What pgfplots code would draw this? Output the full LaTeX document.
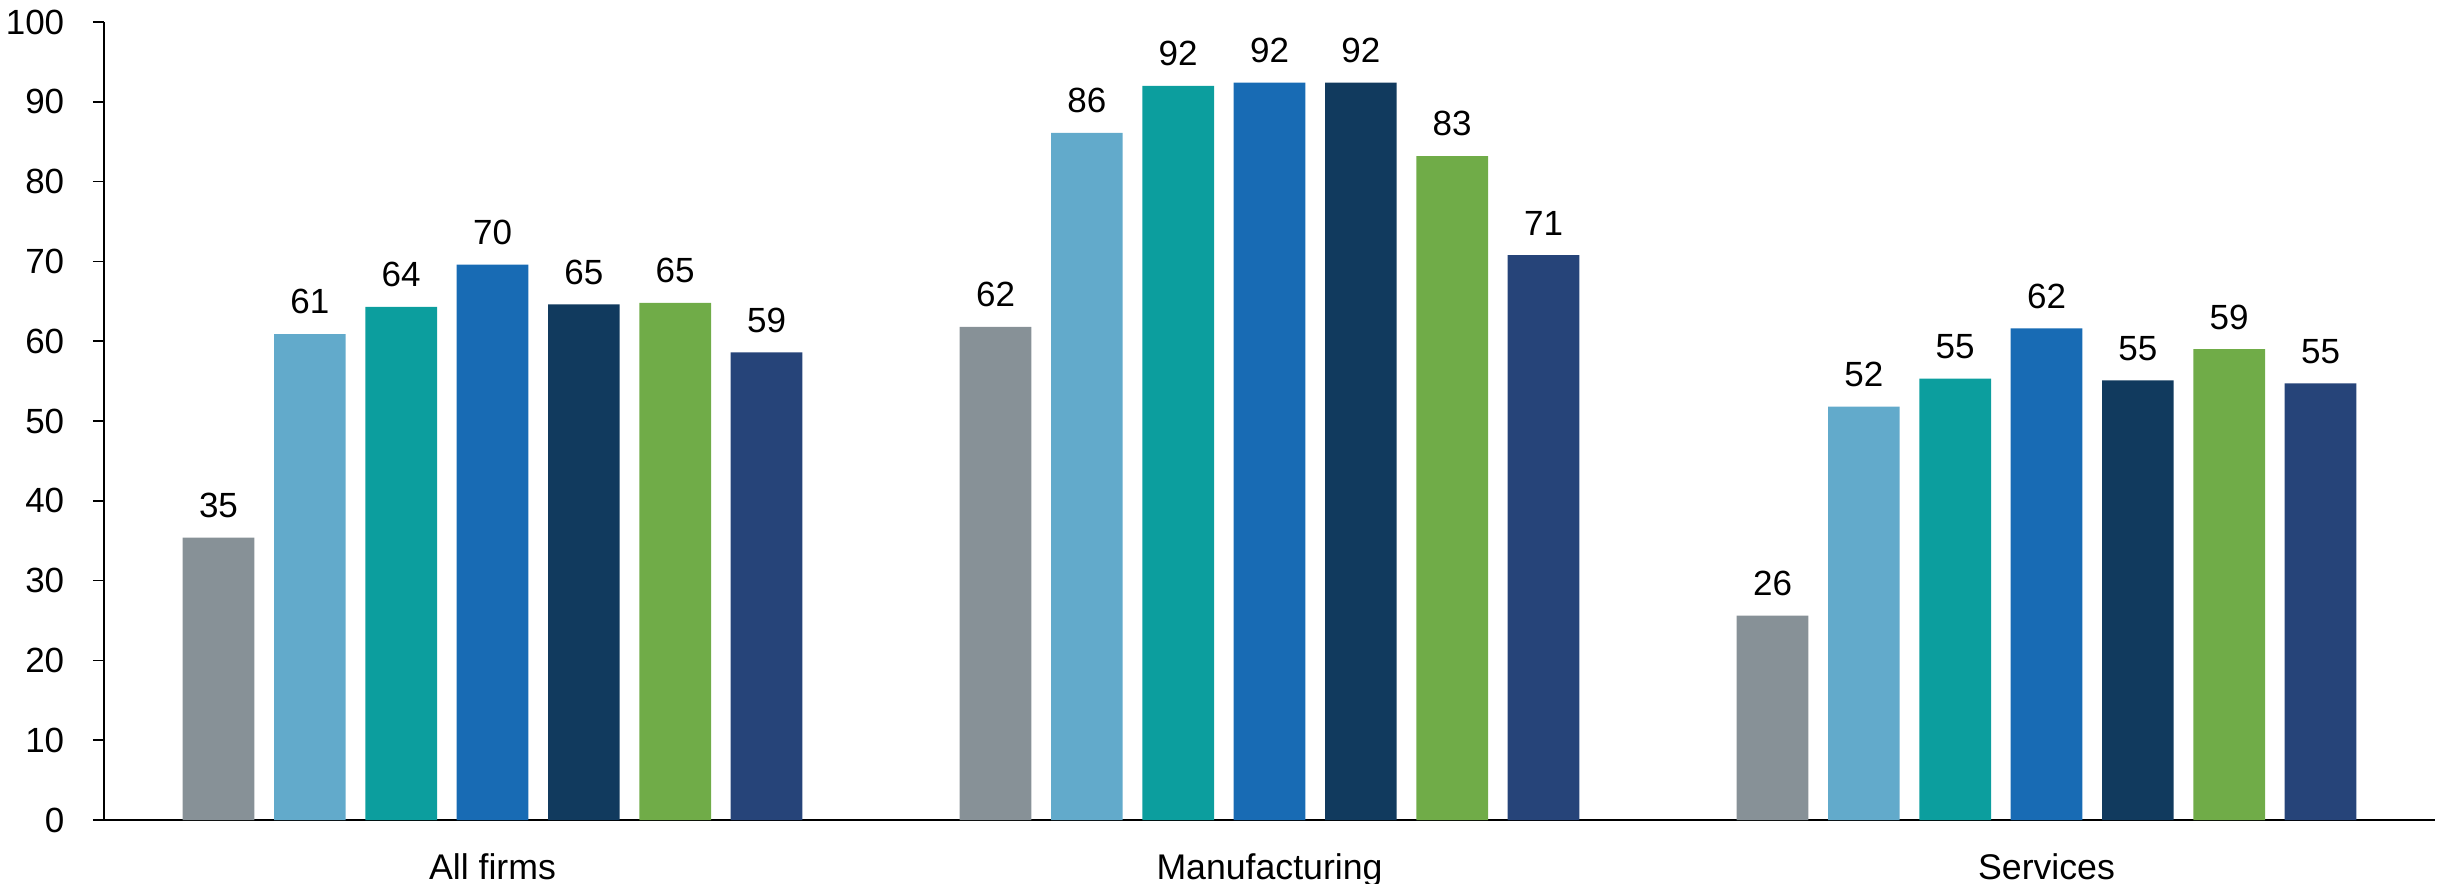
\documentclass[border=0pt]{standalone}
\usepackage{fontspec}
\setmainfont{Liberation Sans}
\usepackage{pgfplots}
\pgfplotsset{compat=1.18}

\definecolor{cGray}{HTML}{879197}
\definecolor{cLight}{HTML}{62AACB}
\definecolor{cTeal}{HTML}{0C9E9E}
\definecolor{cBlue}{HTML}{186BB4}
\definecolor{cNavy}{HTML}{113A5E}
\definecolor{cGreen}{HTML}{70AC48}
\definecolor{cDark}{HTML}{264479}

\begin{document}
\begin{tikzpicture}
\begin{axis}[
  at={(0,0)}, anchor=south west,
  scale only axis,
  width=699.3pt, height=239.4pt,
  xmin=-0.5, xmax=2.5,
  ymin=0, ymax=100,
  ybar=5.9pt, bar width=21.5pt,
  axis x line=bottom, axis y line=left,
  axis line style={-, line width=0.45pt, black},
  xtick={0,1,2},
  xticklabels={All firms, Manufacturing, Services},
  major x tick style={draw=none},
  ytick={0,10,...,100},
  tick align=outside,
  major tick length=3.3pt,
  y tick style={line width=0.45pt, black},
  tick label style={font=\fontsize{10.5pt}{12pt}\selectfont, black},
  xticklabel style={yshift=-3.4pt, font=\fontsize{10.7pt}{12pt}\selectfont},
  yticklabel style={xshift=-5.1pt},
  /pgf/number format/assume math mode=true,
  nodes near coords,
  nodes near coords style={font=\fontsize{10.5pt}{12pt}\selectfont, black, yshift=2.4pt,
    /pgf/number format/fixed, /pgf/number format/precision=0},
  clip=false,
]
\addplot[fill=cGray,  draw=none] coordinates {(0,35.4) (1,61.8) (2,25.6)};
\addplot[fill=cLight, draw=none] coordinates {(0,60.9) (1,86.1) (2,51.8)};
\addplot[fill=cTeal,  draw=none] coordinates {(0,64.3) (1,92.0) (2,55.3)};
\addplot[fill=cBlue,  draw=none] coordinates {(0,69.6) (1,92.4) (2,61.6)};
\addplot[fill=cNavy,  draw=none] coordinates {(0,64.6) (1,92.4) (2,55.1)};
\addplot[fill=cGreen, draw=none] coordinates {(0,64.8) (1,83.2) (2,59.0)};
\addplot[fill=cDark,  draw=none] coordinates {(0,58.6) (1,70.8) (2,54.7)};
\end{axis}
\pgfresetboundingbox
\path[use as bounding box] (-31.2pt,-18.9pt) rectangle (703.8pt,246pt);
\end{tikzpicture}
\end{document}
